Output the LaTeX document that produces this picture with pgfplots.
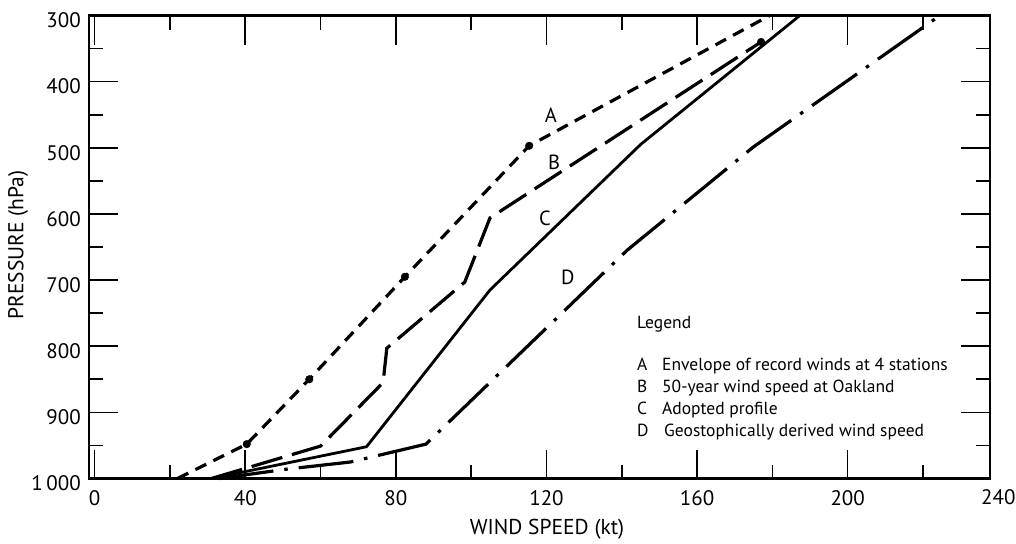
\documentclass[border=0pt]{standalone}
\usepackage{fontspec}
\setmainfont{PT Sans}
\usepackage{pgfplots}
\pgfplotsset{compat=1.18}
\begin{document}
\begin{tikzpicture}[x=1pt,y=1pt]
\path[use as bounding box] (0,0) rectangle (1016,543);
\begin{axis}[
  at={(89pt,64.5pt)}, anchor=south west,
  scale only axis, width=901pt, height=463pt,
  xmin=-1.5, xmax=237.8, ymin=300, ymax=1000, y dir=reverse,
  xtick={0,40,80,120,160,200}, xticklabels={0,40,80,120,160,200},
  minor xtick={20,60,100,140,180,220},
  ytick={300,400,500,600,700,800,900,1000},
  yticklabels={300,400,500,600,700,800,900,1\,000},
  minor ytick={350,450,550,650,750,850,950},
  tick align=inside, major tick length=29pt, minor tick length=14pt,
  every tick/.style={line width=1.6pt, black},
  axis line style={line width=2.4pt},
  xticklabel style={font=\fontsize{21}{24}\selectfont, anchor=base, yshift=-26.5pt},
  yticklabel style={font=\fontsize{21}{24}\selectfont, anchor=east, xshift=-4.7pt, yshift=-5pt},
  clip=false,
]
% A: envelope of record winds
\addplot[black, line width=3.2pt, dash pattern=on 12pt off 8pt] coordinates {
  (22,1000) (40.4,948) (57,850) (82.4,695) (115.4,497) (179.3,300)};
\addplot[only marks, mark=*, mark size=3.8pt, black] coordinates {
  (40.4,948) (57,850) (82.4,695) (115.4,497)};
% B: 50-year wind speed at Oakland
\addplot[black, line width=3.2pt, dash pattern=on 32pt off 10pt] coordinates {
  (31,1000) (60,951) (76.6,855) (77.6,803) (98.3,703) (105,606) (177,340)};
\addplot[only marks, mark=*, mark size=3.8pt, black] coordinates {(177,340)};
% C: adopted profile
\addplot[black, line width=2.8pt] coordinates {
  (31,1000) (72.2,952) (105,715) (145,495) (187.3,300)};
% D: geostrophically derived wind speed
\addplot[black, line width=3.2pt, dash pattern=on 55pt off 11pt on 3.5pt off 11pt] coordinates {
  (33,1000) (50.8,986) (68,975) (88,948) (141.4,655) (174.9,499) (224.5,300)};
\node[font=\fontsize{20.5}{24}\selectfont] at (axis cs:121.2,450.4) {A};
\node[font=\fontsize{20.5}{24}\selectfont] at (axis cs:122,521.5) {B};
\node[font=\fontsize{20.5}{24}\selectfont] at (axis cs:119.6,606) {C};
\node[font=\fontsize{20.5}{24}\selectfont] at (axis cs:125.7,695.4) {D};
\end{axis}
\node[font=\fontsize{21}{24}\selectfont, anchor=base] at (998.3,38) {240};
\node[font=\fontsize{21.5}{24}\selectfont] at (547,14) {WIND SPEED (kt)};
\node[font=\fontsize{21.5}{24}\selectfont, rotate=90] at (18,298) {PRESSURE (hPa)};
\begin{scope}[every node/.style={font=\fontsize{17.5}{20}\selectfont, anchor=base west, inner sep=0pt}]
\node at (637,214) {Legend};
\node at (637,172) {A};\node at (662,172) {Envelope of record winds at 4 stations};
\node at (637,150) {B};\node at (662,150) {50-year wind speed at Oakland};
\node at (637,128) {C};\node at (662,128) {Adopted profile};
\node at (637,106) {D};\node at (664,106) {Geostophically derived wind speed};
\end{scope}
\end{tikzpicture}
\end{document}
